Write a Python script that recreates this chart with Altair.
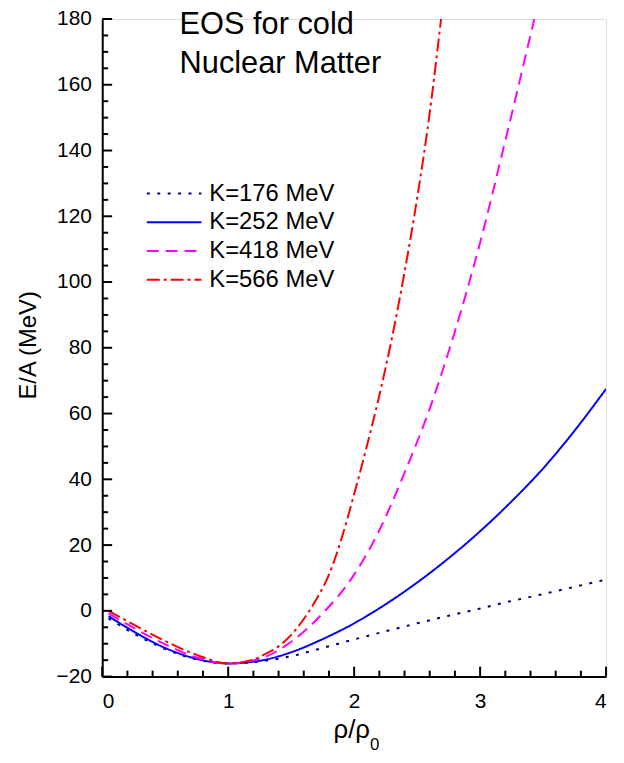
import altair as alt
import pandas as pd

FONT = "Liberation Sans"

# ---------------- data ----------------
series_names = ["K=176 MeV", "K=252 MeV", "K=418 MeV", "K=566 MeV"]
series_colors = ["#000080", "#0000FF", "#FF00FF", "#FF0000"]
series_dashes = [[3, 7.5], [1, 0], [12, 7], [13, 4, 3, 4]]

x_176 = [0.05, 0.25, 0.5, 0.75, 1.0, 1.25, 1.5, 1.75, 2.0, 2.25, 2.5, 2.75, 3.0, 3.25, 3.5, 3.75, 4.0]
y_176 = [-2.3, -6.9, -11.6, -14.8, -16.0, -15.4, -13.8, -11.3, -8.7, -6.2, -3.8, -1.5, 0.7, 3.0, 5.1, 7.3, 9.5]

x_252 = [0.05, 0.25, 0.5, 0.75, 1.0, 1.25, 1.5, 1.75, 2.0, 2.25, 2.5, 2.75, 3.0, 3.25, 3.5, 3.75, 4.0]
y_252 = [-1.6, -6.3, -11.3, -14.6, -16.0, -15.2, -12.6, -8.6, -3.8, 2.0, 8.6, 16.0, 24.2, 33.3, 43.3, 54.8, 67.5]

x_418 = [0.05, 0.25, 0.5, 0.75, 1.0, 1.25, 1.5, 1.75, 2.0, 2.2, 2.4, 2.6, 2.8, 3.0, 3.2, 3.43]
y_418 = [-0.8, -5.2, -10.2, -14.2, -16.0, -14.6, -9.4, -0.8, 11.0, 24.5, 42.0, 61.5, 85.0, 112.0, 143.0, 180.0]

x_566 = [0.05, 0.25, 0.5, 0.75, 1.0, 1.2, 1.3, 1.4, 1.5, 1.6, 1.7, 1.8, 1.9, 2.0, 2.1, 2.2, 2.3, 2.4, 2.5, 2.6, 2.69]
y_566 = [0.0, -4.2, -9.2, -13.4, -16.0, -14.8, -13.0, -10.8, -7.3, -2.5, 3.5, 11.0, 22.0, 35.5, 50.0, 65.5, 83.0, 103.0, 125.5, 151.5, 180.0]

x_ticks_major = [0, 1, 2, 3, 4]
x_ticks_minor = [round(0.2 * i, 1) for i in range(21) if i % 5]
y_ticks_major = list(range(-20, 181, 20))
y_ticks_minor = [v for v in range(-20, 181, 5) if v % 20]

title_lines = ["EOS for cold", "Nuclear Matter"]
x_title = "ρ/ρ"
x_title_sub = "0"
y_title = "E/A (MeV)"

# ---------------- layout ----------------
W, H = 508, 663

xs = [x_176, x_252, x_418, x_566]
ys = [y_176, y_252, y_418, y_566]
rows = []
for name, xv, yv in zip(series_names, xs, ys):
    for a, b in zip(xv, yv):
        rows.append({"x": a, "y": b, "K": name})
df = pd.DataFrame(rows)

xscale = alt.Scale(domain=[0, 4], nice=False, zero=False)
yscale = alt.Scale(domain=[-20, 180], nice=False, zero=False)

xaxis = alt.Axis(values=x_ticks_major, format="d", title=None, ticks=False, tickSize=0,
                 grid=False, domainColor="black", domainWidth=2, labelFont=FONT,
                 labelFontSize=21, labelColor="black", labelPadding=14)
yaxis = alt.Axis(values=y_ticks_major, format="d", title=None, ticks=False, tickSize=0,
                 grid=False, domainColor="black", domainWidth=2, labelFont=FONT,
                 labelFontSize=21, labelColor="black", labelPadding=11)

lines = alt.Chart(df).mark_line(strokeWidth=2, clip=True, interpolate="monotone").encode(
    x=alt.X("x:Q", scale=xscale, axis=xaxis),
    y=alt.Y("y:Q", scale=yscale, axis=yaxis),
    color=alt.Color("K:N", scale=alt.Scale(domain=series_names, range=series_colors), legend=None),
    strokeDash=alt.StrokeDash("K:N", scale=alt.Scale(domain=series_names, range=series_dashes), legend=None),
)

def xticks(vals, length):
    return alt.Chart(pd.DataFrame({"x": vals})).mark_rule(color="black", strokeWidth=2).encode(
        x=alt.X("x:Q", scale=xscale, axis=xaxis), y=alt.value(H), y2=alt.value(H - length))

def yticks(vals, length):
    return alt.Chart(pd.DataFrame({"y": vals})).mark_rule(color="black", strokeWidth=2).encode(
        y=alt.Y("y:Q", scale=yscale, axis=yaxis), x=alt.value(0), x2=alt.value(length))

ticks = [xticks(x_ticks_major, 10), xticks(x_ticks_minor, 6),
         yticks(y_ticks_major, 10), yticks(y_ticks_minor, 6)]

# legend (manual)
legend_layers = []
for i, (name, col, dash) in enumerate(zip(series_names, series_colors, series_dashes)):
    ypx = 176 + 29 * i
    legend_layers.append(
        alt.Chart(pd.DataFrame({"K": [name]})).mark_rule(color=col, strokeDash=dash, strokeWidth=2).encode(
            x=alt.value(45), x2=alt.value(100), y=alt.value(ypx)))
    legend_layers.append(
        alt.Chart(pd.DataFrame({"K": [name]})).mark_text(
            font=FONT, fontSize=24, align="left", baseline="middle", color="black").encode(
            text="K:N", x=alt.value(108), y=alt.value(ypx)))

# texts
texts = []
for i, t in enumerate(title_lines):
    texts.append(alt.Chart(pd.DataFrame({"t": [t]})).mark_text(
        font=FONT, fontSize=31, align="left", baseline="alphabetic", color="black").encode(
        text="t:N", x=alt.value(78), y=alt.value(15 + 39 * i)))

texts.append(alt.Chart(pd.DataFrame({"t": [x_title]})).mark_text(
    font=FONT, fontSize=26, align="right", baseline="alphabetic", color="black").encode(
    text="t:N", x=alt.value(270), y=alt.value(725)))
texts.append(alt.Chart(pd.DataFrame({"t": [x_title_sub]})).mark_text(
    font=FONT, fontSize=17, align="left", baseline="alphabetic", color="black").encode(
    text="t:N", x=alt.value(270), y=alt.value(737)))
texts.append(alt.Chart(pd.DataFrame({"t": [y_title]})).mark_text(
    font=FONT, fontSize=24, align="center", baseline="middle", angle=270, color="black").encode(
    text="t:N", x=alt.value(-74), y=alt.value(329)))

chart = alt.layer(lines, *ticks, *legend_layers, *texts).properties(
    width=W, height=H,
    autosize=alt.AutoSizeParams(type="none"),
    padding={"left": 95, "top": 8, "right": 10, "bottom": 80},
).configure_view(strokeWidth=0).configure(background="white")

chart.save("out.html", embed_options={"renderer": "svg", "actions": False})
